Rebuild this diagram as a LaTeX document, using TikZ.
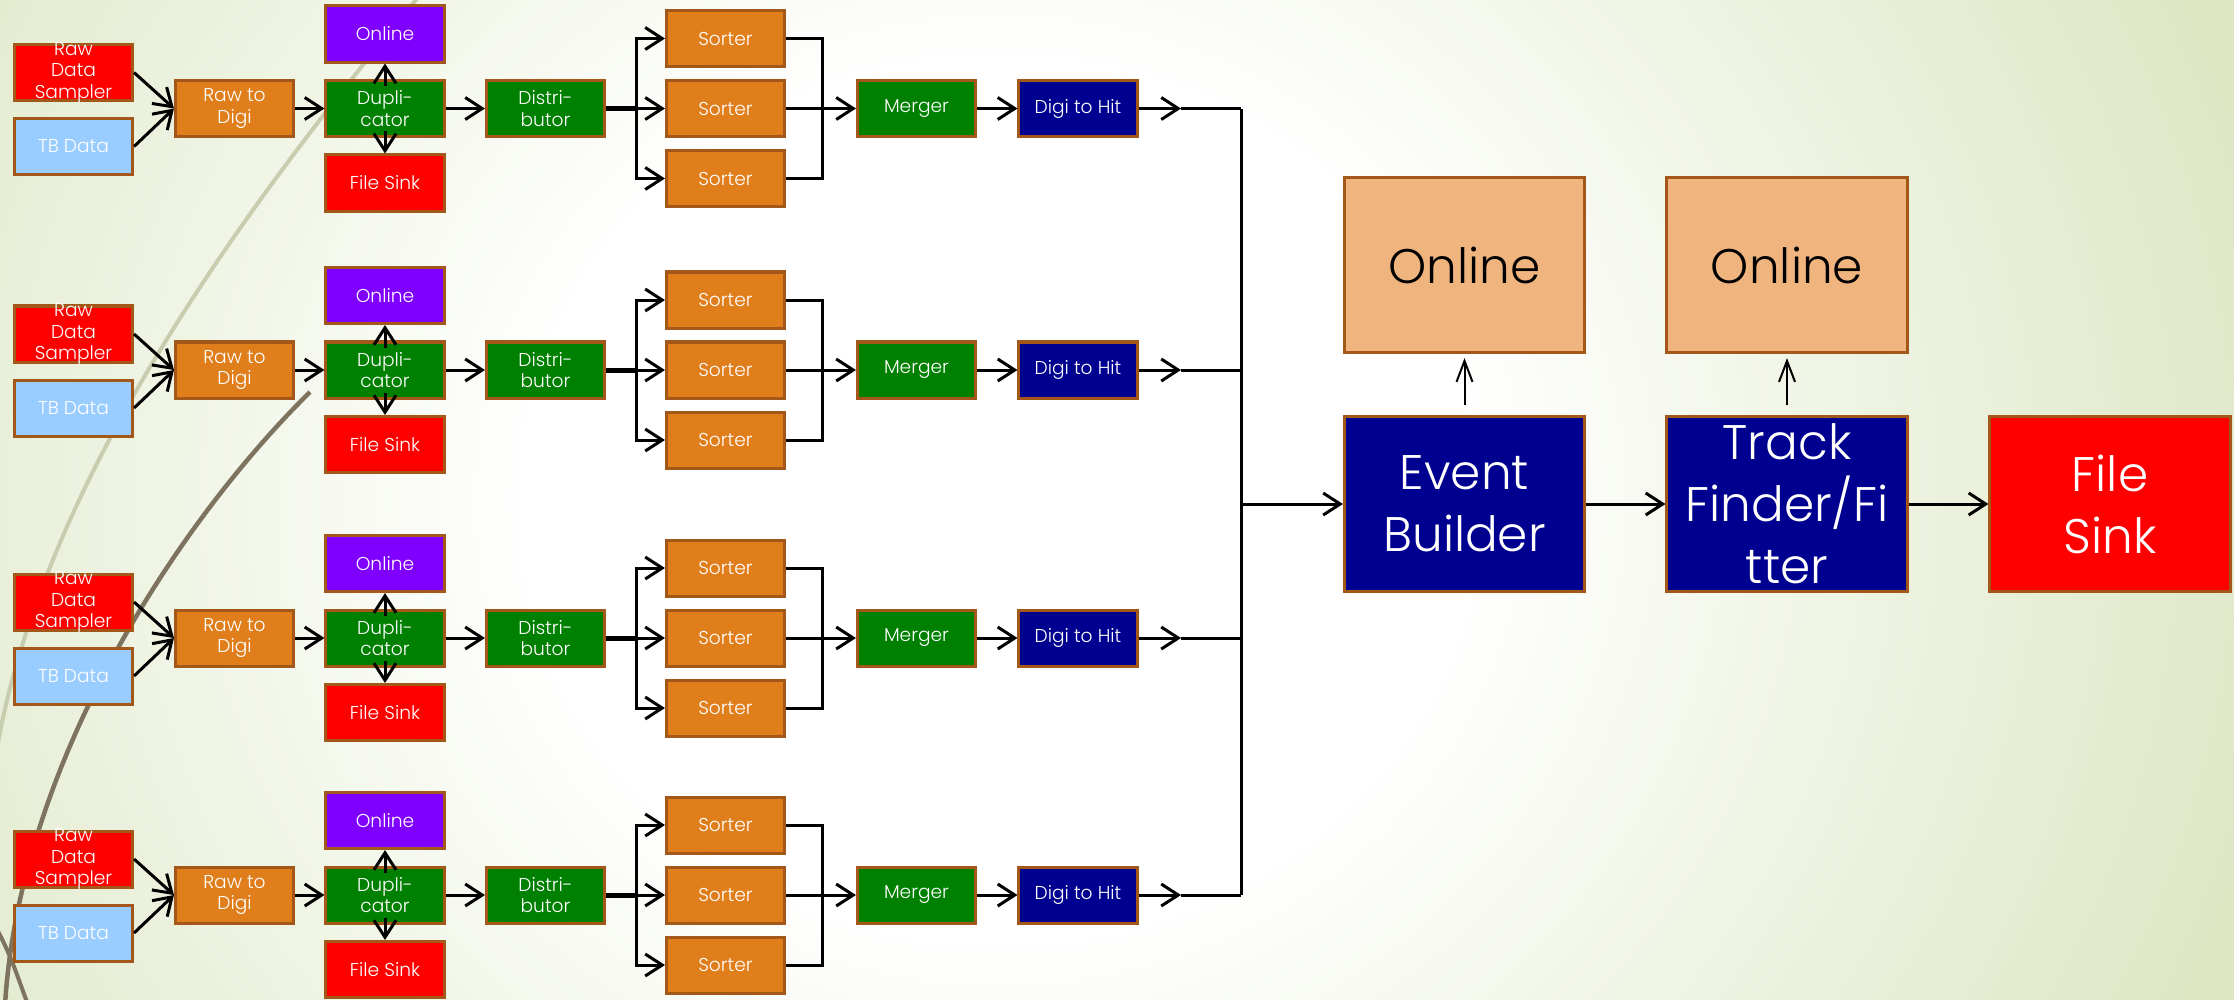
\documentclass[tikz,border=0pt]{standalone}
\usepackage{fontspec}
\newfontfamily\boxfont{Poppins}[UprightFont={* Light}]
\usetikzlibrary{arrows.meta,positioning}

\definecolor{edge}{RGB}{163,88,26}
\definecolor{rawred}{RGB}{255,0,0}
\definecolor{tbblue}{RGB}{153,204,255}
\definecolor{sortorange}{RGB}{224,126,28}
\definecolor{dupgreen}{RGB}{0,128,0}
\definecolor{onviolet}{RGB}{128,0,255}
\definecolor{hitblue}{RGB}{0,0,144}
\definecolor{peach}{RGB}{240,180,126}
\definecolor{bgedge}{RGB}{221,231,196}
\definecolor{swlight}{RGB}{200,205,176}
\definecolor{swdark}{RGB}{125,115,94}

\pgfdeclareradialshading{backdrop}{\pgfpoint{0bp}{0bp}}{color(0bp)=(white); color(9bp)=(white); color(25bp)=(bgedge); color(50bp)=(bgedge)}

\tikzset{
  box/.style={draw=edge, line width=0.03cm, minimum width=1.18cm, minimum height=0.56cm,
    inner sep=0pt, align=center, text=white, font=\boxfont\fontsize{5.3}{6.1}\selectfont},
  labtxt/.style={inner sep=0pt, align=center, text=white, font=\boxfont\fontsize{5.3}{6.1}\selectfont},
  big/.style={box, minimum width=2.40cm, minimum height=1.75cm, font=\boxfont\fontsize{13.8}{17.6}\selectfont},
  link/.style={line width=0.03cm, black},
  arr/.style={link, -{Straight Barb[length=0.17cm,width=0.22cm]}},
  uparr/.style={line width=0.02cm, -{Straight Barb[length=0.21cm,width=0.16cm]}, shorten <=0.1cm, shorten >=0.04cm},
}

\begin{document}
\begin{tikzpicture}[x=0.01cm, y=-0.01cm]

	\useasboundingbox (0,0) rectangle (2234,999);
	\begin{scope}
		\clip (0,0) rectangle (2234,999);
		\shade[shading=backdrop] (-300,-700) rectangle (2300,1700);
	\end{scope}
	% swooshes of the slide on the left
	\draw[swlight, line width=0.04cm] (420,-5) .. controls (250,200) and (40,480) .. (-5,760);
	\draw[swdark, line width=0.045cm] (310,392) .. controls (180,520) and (20,760) .. (5,1005);
	\draw[swdark, line width=0.04cm] (-5,925) .. controls (10,955) .. (28,1005);

	\foreach \r/\y in {1/108.5, 2/370, 3/638, 4/895}{
		\node[box, fill=rawred, label={[labtxt]center:Raw\\Data\\Sampler}] (Raw\r) at (73.5,\y-36) {};
		\node[box, fill=tbblue] (TB\r) at (73.5,\y+38) {TB Data};
		\node[box, fill=sortorange] (Dig\r) at (234.5,\y) {Raw to\\Digi};
		\node[box, fill=onviolet] (On\r) at (385,\y-74.5) {Online};
		\node[box, fill=dupgreen] (Dup\r) at (385,\y) {Dupli-\\cator};
		\node[box, fill=rawred] (Fs\r) at (385,\y+74.5) {File Sink};
		\node[box, fill=dupgreen] (Dis\r) at (545.5,\y) {Distri-\\butor};
		\node[box, fill=sortorange] (Sa\r) at (725.5,\y-70) {Sorter};
		\node[box, fill=sortorange] (Sb\r) at (725.5,\y) {Sorter};
		\node[box, fill=sortorange] (Sc\r) at (725.5,\y+70) {Sorter};
		\node[box, fill=dupgreen] (Mer\r) at (916.5,\y) {Merger};
		\node[box, fill=hitblue] (Hit\r) at (1078,\y) {Digi to Hit};
		\coordinate (split\r) at (636,\y);
		\coordinate (join\r) at (822,\y);
		\coordinate (tip\r) at (1181,\y);
		\coordinate (bus\r) at (1241,\y);

		\draw[arr] (Raw\r.east) -- (Dig\r.west);
		\draw[arr] (TB\r.east) -- (Dig\r.west);
		\draw[arr] (Dig\r.east) -- (Dup\r.west);
		\draw[arr] ([yshift=-0.07cm]Dup\r.north) -- (On\r.south);
		\draw[arr] ([yshift=0.07cm]Dup\r.south) -- (Fs\r.north);
		\draw[arr] (Dup\r.east) -- (Dis\r.west);
		\draw[link, line width=0.05cm] (Dis\r.east) -- (split\r);
		\draw[arr] (split\r) |- (Sa\r.west);
		\draw[arr] (split\r) -- (Sb\r.west);
		\draw[arr] (split\r) |- (Sc\r.west);
		\draw[link] (Sa\r.east) -| (join\r);
		\draw[link] (Sc\r.east) -| (join\r);
		\draw[arr] (Sb\r.east) -- (Mer\r.west);
		\draw[arr] (Mer\r.east) -- (Hit\r.west);
		\draw[arr] (Hit\r.east) -- (tip\r);
		\draw[link] (tip\r) -- (bus\r);
	}

	\node[big, fill=hitblue] (EB) at (1464.5,504) {Event\\Builder};
	\node[big, fill=hitblue] (TF) at (1787,504) {Track\\Finder/Fi\\tter};
	\node[big, fill=rawred] (FS) at (2110,504) {File\\Sink};
	\node[big, fill=peach, text=black] (OnA) at (1464.5,265) {Online};
	\node[big, fill=peach, text=black] (OnB) at (1787,265) {Online};
	\coordinate (busin) at (1241,504);

	\draw[link] (bus1) -- (bus4);
	\draw[arr] (busin) -- (EB);
	\draw[arr] (EB) -- (TF);
	\draw[arr] (TF) -- (FS);
	\draw[uparr] (EB) -- (OnA);
	\draw[uparr] (TF) -- (OnB);

\end{tikzpicture}
\end{document}
